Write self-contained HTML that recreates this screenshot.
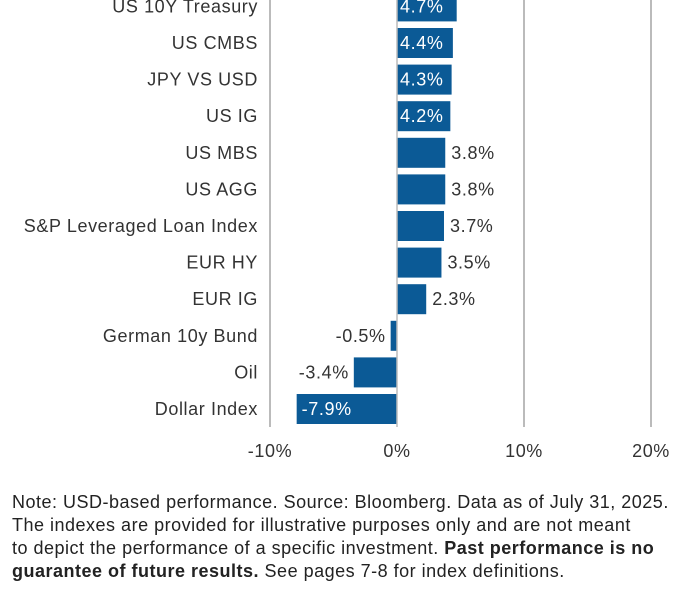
<!DOCTYPE html>
<html><head><meta charset="utf-8"><style>
html,body{margin:0;padding:0;background:#fff;width:694px;height:600px;overflow:hidden;font-family:"Liberation Sans",sans-serif;}
#note{position:absolute;left:12px;top:491px;font-size:18px;letter-spacing:0.5px;line-height:23px;color:#222;width:690px;white-space:nowrap;}
</style></head><body>
<svg id="chart" width="694" height="480" style="position:absolute;left:0;top:0"></svg>
<div id="note">Note: USD-based performance. Source: Bloomberg. Data as of July 31, 2025.<br>The indexes are provided for illustrative purposes only and are not meant<br>to depict the performance of a specific investment. <b>Past performance is no<br>guarantee of future results.</b> See pages 7-8 for index definitions.</div>
<script>
const categories=["US 10Y Treasury","US CMBS","JPY VS USD","US IG","US MBS","US AGG","S&P Leveraged Loan Index","EUR HY","EUR IG","German 10y Bund","Oil","Dollar Index"];
const values=[4.7,4.4,4.3,4.2,3.8,3.8,3.7,3.5,2.3,-0.5,-3.4,-7.9];
const insideLabel=[true,true,true,true,false,false,false,false,false,false,false,true];
const ticks=[-10,0,10,20];
const NS="http://www.w3.org/2000/svg";
const svg=document.getElementById('chart');
const x=v=>397+v*12.7;
const yc=i=>409-36.6*(categories.length-1-i);
function mk(t,a){const e=document.createElementNS(NS,t);for(const k in a)e.setAttribute(k,a[k]);svg.appendChild(e);return e;}
const FS=18, LS='0.6px';
ticks.forEach(t=>{
  if(t!==0){const l=mk('line',{x1:x(t),x2:x(t),y1:0,y2:427,stroke:'#bbb','stroke-width':2});
  
  }
  const tx=mk('text',{x:x(t),y:457,'text-anchor':'middle','font-size':FS,'letter-spacing':LS,fill:'#333'});
  tx.textContent=t+'%';
  
  
});
categories.forEach((c,i)=>{
  const v=values[i],y=yc(i);
  const x0=Math.min(x(0),x(v)),w=Math.abs(x(v)-x(0));
  const r=mk('rect',{x:x0,y:y-15,width:w,height:30,fill:'#0b5a96'});
  
  
  const lb=mk('text',{x:258,y:y+6,'text-anchor':'end','font-size':FS,'letter-spacing':LS,fill:'#333'});
  lb.textContent=c;
  
  
  let vx,anchor,fill;
  if(insideLabel[i]){fill='#fff';if(v>=0){vx=x(0)+3;anchor='start';}else{vx=x(v)+5;anchor='start';}}
  else{fill='#333';if(v>=0){vx=x(v)+6;anchor='start';}else{vx=x(v)-5;anchor='end';}}
  const vt=mk('text',{x:vx,y:y+6,'text-anchor':anchor,'font-size':FS,'letter-spacing':LS,fill:fill});
  vt.textContent=v.toFixed(1)+'%';
  
  
});
const z=mk('line',{x1:x(0),x2:x(0),y1:0,y2:427,stroke:'#bbb','stroke-width':1.5});


</script>
</body></html>
